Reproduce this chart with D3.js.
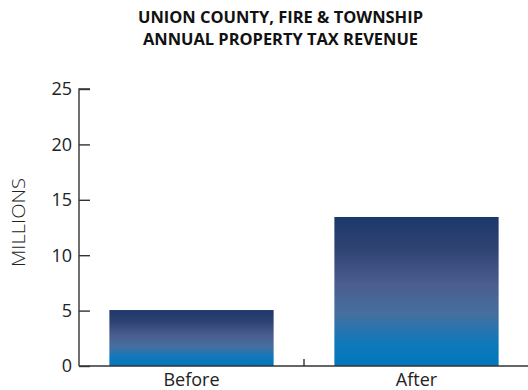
<!DOCTYPE html>
<html><head><meta charset="utf-8">
<script src="https://cdn.jsdelivr.net/npm/d3@7"></script>
<style>body{margin:0;background:#fff}svg{display:block}</style>
</head><body>
<script>
const categories = ["Before", "After"];
const values = [5.05, 13.45];
const yTicks = [0, 5, 10, 15, 20, 25];
const titleLines = ["UNION COUNTY, FIRE & TOWNSHIP", "ANNUAL PROPERTY TAX REVENUE"];
const yLabel = "MILLIONS";

const W = 528, H = 390;
const svg = d3.select("body").append("svg").attr("width", W).attr("height", H);
const x = d3.scaleBand().domain(categories).range([79, 529]).padding(0);
const y = d3.scaleLinear().domain([0, 25]).range([366, 89]);

const defs = svg.append("defs");
const g = defs.append("linearGradient").attr("id", "bg").attr("x1", 0).attr("y1", 0).attr("x2", 0).attr("y2", 1);
[[0, "#1c386a"], [0.2, "#2e4272"], [0.45, "#4a5d8e"], [0.65, "#456f9f"], [0.85, "#0e79bb"], [1, "#0077bd"]]
  .forEach(([o, c]) => g.append("stop").attr("offset", o).attr("stop-color", c));

const inset = 0.135;
svg.selectAll("rect.bar").data(values).join("rect").attr("class", "bar")
  .attr("x", (d, i) => x(categories[i]) + x.bandwidth() * inset)
  .attr("width", x.bandwidth() * (1 - 2 * inset))
  .attr("y", d => y(d)).attr("height", d => y(0) - y(d))
  .attr("fill", "url(#bg)");

const font = "'Open Sans', sans-serif";
// y axis
const ya = svg.append("g").attr("transform", "translate(79,0)")
  .call(d3.axisRight(y).tickValues(yTicks).tickSize(11).tickFormat(""));
ya.select(".domain").attr("stroke", "#333").attr("stroke-width", 1.4).attr("d", `M11,${y(25)}H0V${y(0)}`);
ya.selectAll(".tick line").attr("stroke", "#333").attr("stroke-width", 1.4);
svg.selectAll("text.yt").data(yTicks).join("text").attr("class", "yt")
  .attr("x", 72).attr("y", d => y(d)).attr("dy", "0.36em").attr("text-anchor", "end")
  .attr("font-family", font).attr("font-size", 18).attr("fill", "#222").text(d => d);

// x axis
const xa = svg.append("g").attr("transform", `translate(0,${y(0)})`)
  .call(d3.axisBottom(x).tickSize(0).tickFormat(""));
xa.select(".domain").attr("stroke", "#333").attr("stroke-width", 1.4).attr("d", `M79,0H528`);
xa.selectAll(".tick").remove();
svg.append("line").attr("x1", x("After")).attr("x2", x("After")).attr("y1", y(0)).attr("y2", y(0) - 7)
  .attr("stroke", "#333").attr("stroke-width", 1.4);
svg.selectAll("text.xt").data(categories).join("text").attr("class", "xt")
  .attr("x", d => x(d) + x.bandwidth() / 2).attr("y", 386).attr("text-anchor", "middle")
  .attr("font-family", font).attr("font-size", 18).attr("fill", "#222").text(d => d);

// y label
svg.append("text").attr("transform", "translate(25,222.5) rotate(-90)").attr("text-anchor", "middle")
  .attr("font-family", font).attr("font-size", 19).attr("font-weight", 300).attr("fill", "#222")
  .attr("textLength", 89).attr("lengthAdjust", "spacingAndGlyphs").text(yLabel);

// title
const tLens = [285, 275];
svg.selectAll("text.title").data(titleLines).join("text").attr("class", "title")
  .attr("x", 280.5).attr("y", (d, i) => 22.5 + i * 22).attr("text-anchor", "middle")
  .attr("font-family", font).attr("font-size", 16).attr("font-weight", 700).attr("fill", "#111")
  .attr("textLength", (d, i) => tLens[i]).attr("lengthAdjust", "spacingAndGlyphs").text(d => d);
</script>
</body></html>
